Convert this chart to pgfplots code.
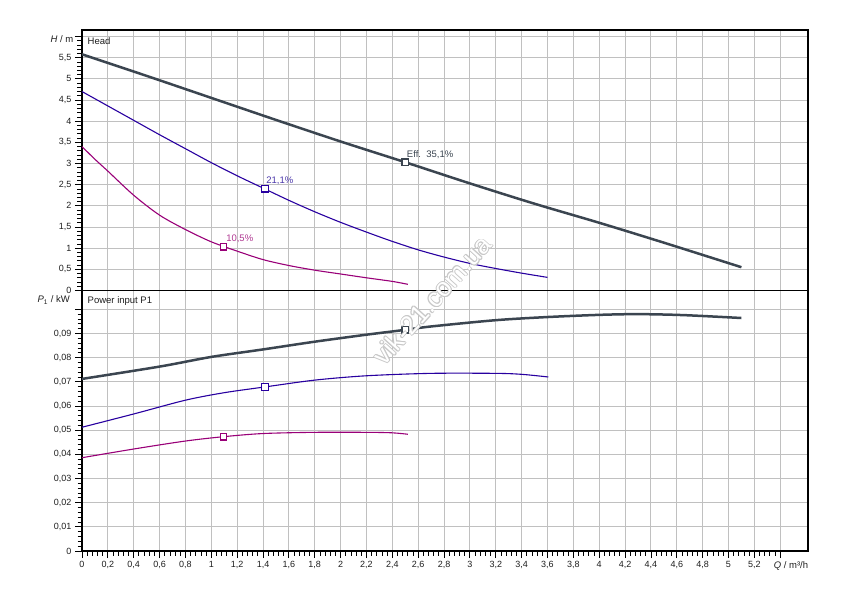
\documentclass[border=0pt]{standalone}
\usepackage{fontspec}
\setmainfont{Liberation Sans}
\usepackage{pgfplots}
\pgfplotsset{compat=1.18}
\definecolor{darkc}{RGB}{59,69,80}
\definecolor{bluec}{RGB}{40,0,160}
\definecolor{magc}{RGB}{153,0,120}
\definecolor{bluelab}{RGB}{75,55,170}
\definecolor{maglab}{RGB}{175,55,145}
\definecolor{gridc}{RGB}{192,192,192}
\definecolor{txtc}{RGB}{30,30,30}
\definecolor{wmc}{RGB}{200,200,200}
\pgfplotsset{
  common/.style={
    scale only axis, width=726pt, height=260.5pt,
    xmin=0, xmax=5.615,
    axis line style={black, line width=1.2pt},
    grid=major, major grid style={color=gridc, line width=0.9pt},
    tick align=outside, xtick pos=bottom, ytick pos=left,
    major tick length=7pt, minor tick length=4.5pt,
    every tick/.style={black, line width=0.8pt},
    minor x tick num=4, minor y tick num=4,
    tick label style={font=\fontsize{9}{10}\selectfont, text=txtc},
    xtick={0,0.2,0.4,0.6,0.8,1,1.2,1.4,1.6,1.8,2,2.2,2.4,2.6,2.8,3,3.2,3.4,3.6,3.8,4,4.2,4.4,4.6,4.8,5,5.2,5.4},
    clip=true,
  },
  blk/.style={darkc, line width=2.5pt, smooth},
  blu/.style={bluec, line width=1.1pt, smooth},
  mag/.style={magc, line width=1.1pt, smooth},
}
\newcommand\lf{\fontsize{9.5}{11}\selectfont}
\begin{document}
\begin{tikzpicture}[x=1pt,y=1pt]
\useasboundingbox (0,0) rectangle (850,600);
% ---------- upper: head ----------
\begin{axis}[common, at={(82pt,309.5pt)}, anchor=south west,
  ymin=0, ymax=6.154,
  ytick={0,0.5,1,1.5,2,2.5,3,3.5,4,4.5,5,5.5,6},
  yticklabels={0,{0,5},1,{1,5},2,{2,5},3,{3,5},4,{4,5},5,{5,5},{}},
  xticklabels={}, xtick style={draw=none}]
\addplot[blk] coordinates {(0,5.58) (0.5,5.07) (1,4.55) (1.5,4.03) (2,3.52) (2.5,3.03) (3,2.53) (3.5,2.05) (4,1.60) (4.5,1.13) (5.1,0.55)};
\addplot[blu] coordinates {(0,4.70) (0.2,4.36) (0.4,4.02) (0.6,3.68) (0.8,3.35) (1.0,3.02) (1.2,2.71) (1.4,2.42) (1.6,2.13) (1.8,1.86) (2.0,1.61) (2.2,1.38) (2.4,1.16) (2.6,0.96) (2.8,0.79) (3.0,0.64) (3.2,0.52) (3.4,0.41) (3.6,0.31)};
\addplot[mag] coordinates {(0,3.40) (0.1,3.10) (0.2,2.82) (0.4,2.25) (0.6,1.78) (0.8,1.44) (1.0,1.15) (1.2,0.93) (1.4,0.73) (1.6,0.59) (1.8,0.48) (2.0,0.39) (2.2,0.30) (2.4,0.215) (2.52,0.146)};
\addplot[only marks, mark=square*, mark size=3.3pt, mark options={draw=darkc, fill=white, line width=1.3pt}] coordinates {(2.5,3.03)};
\addplot[only marks, mark=square*, mark size=3.3pt, mark options={draw=bluec, fill=white, line width=1.1pt}] coordinates {(1.417,2.405)};
\addplot[only marks, mark=square*, mark size=3.3pt, mark options={draw=magc, fill=white, line width=1.1pt}] coordinates {(1.095,1.035)};
\node[anchor=west, inner sep=0, xshift=1.5pt, yshift=8pt, text=darkc, font=\lf] at (axis cs:2.5,3.03) {Eff.\ \ 35,1\%};
\node[anchor=west, inner sep=0, xshift=1pt, yshift=8.3pt, text=bluelab, font=\lf] at (axis cs:1.417,2.405) {21,1\%};
\node[anchor=west, inner sep=0, xshift=2.5pt, yshift=7.7pt, text=maglab, font=\lf] at (axis cs:1.095,1.035) {10,5\%};
\end{axis}
% ---------- lower: power ----------
\begin{axis}[common, at={(82pt,49pt)}, anchor=south west,
  ymin=0, ymax=0.10778, scaled y ticks=false,
  ytick={0,0.01,0.02,0.03,0.04,0.05,0.06,0.07,0.08,0.09,0.1},
  yticklabels={0,{0,01},{0,02},{0,03},{0,04},{0,05},{0,06},{0,07},{0,08},{0,09},{}},
  xticklabels={0,{0,2},{0,4},{0,6},{0,8},1,{1,2},{1,4},{1,6},{1,8},2,{2,2},{2,4},{2,6},{2,8},3,{3,2},{3,4},{3,6},{3,8},4,{4,2},{4,4},{4,6},{4,8},5,{5,2},{}}]
\addplot[blk] coordinates {(0,0.0712) (0.6,0.0763) (1.0,0.0803) (1.4,0.0834) (1.8,0.0866) (2.2,0.0895) (2.5,0.0915) (2.7,0.0929) (3.2,0.0955) (3.6,0.0968) (4.0,0.0977) (4.3,0.0980) (4.65,0.0976) (5.1,0.0964)};
\addplot[blu] coordinates {(0,0.0512) (0.4,0.0567) (0.8,0.0624) (1.1,0.0655) (1.417,0.0679) (1.8,0.0707) (2.2,0.0725) (2.7,0.0735) (3.2,0.0735) (3.4,0.0731) (3.606,0.0720)};
\addplot[mag] coordinates {(0,0.0386) (0.4,0.0422) (0.8,0.0455) (1.095,0.0473) (1.4,0.0486) (1.8,0.0491) (2.2,0.0491) (2.4,0.0489) (2.52,0.0483)};
\addplot[only marks, mark=square*, mark size=3.3pt, mark options={draw=darkc, fill=white, line width=1.3pt}] coordinates {(2.5,0.0915)};
\addplot[only marks, mark=square*, mark size=3.3pt, mark options={draw=bluec, fill=white, line width=1.1pt}] coordinates {(1.417,0.0679)};
\addplot[only marks, mark=square*, mark size=3.3pt, mark options={draw=magc, fill=white, line width=1.1pt}] coordinates {(1.095,0.0473)};
\end{axis}
% ---------- texts ----------
\node[anchor=west, inner sep=0, text=txtc, font=\lf] at (87.5,559) {Head};
\node[anchor=west, inner sep=0, text=txtc, font=\lf] at (87.5,299) {Power input P1};
\node[anchor=east, inner sep=0, text=txtc, font=\lf] at (73.5,561) {\textit{H} / m};
\node[anchor=east, inner sep=0, text=txtc, font=\lf] at (70,300) {\textit{P}\textsubscript{1} / kW};
\node[anchor=center, inner sep=0, text=txtc, font=\lf] at (791,34) {\textit{Q} / m³/h};
% ---------- watermark (white letters, light grey outline) ----------
\foreach \dx/\dy in {0.8/0,-0.8/0,0/0.8,0/-0.8,0.6/0.6,-0.6/-0.6,0.6/-0.6,-0.6/0.6}{
  \node[rotate=48, inner sep=0, text=wmc, font=\fontsize{26}{28}\selectfont] at (432+\dx,300+\dy) {vik-21.com.ua};
}
\node[rotate=48, inner sep=0, text=white, font=\fontsize{26}{28}\selectfont] at (432,300) {vik-21.com.ua};
\end{tikzpicture}
\end{document}
